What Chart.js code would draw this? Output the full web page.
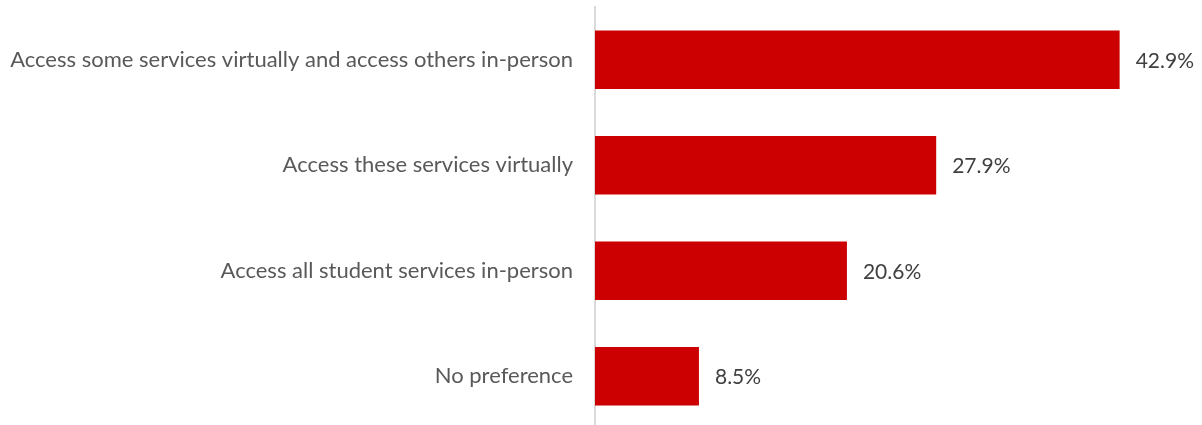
<!DOCTYPE html>
<html>
<head>
<meta charset="utf-8">
<script src="https://cdn.jsdelivr.net/npm/chart.js@4"></script>
<style>
  html, body { margin: 0; padding: 0; background: #fff; overflow: hidden; }
  canvas { display: block; }
</style>
</head>
<body>
<canvas id="prefs" width="1202" height="429"></canvas>
<script>
var categories = [
  'Access some services virtually and access others in-person',
  'Access these services virtually',
  'Access all student services in-person',
  'No preference'
];
var shares = [42.9, 27.9, 20.6, 8.5];

var FONT = 'Lato, sans-serif';

// value labels at the end of each bar
var barLabels = {
  id: 'barLabels',
  afterDatasetsDraw: function (chart) {
    var ctx = chart.ctx;
    var meta = chart.getDatasetMeta(0);
    ctx.save();
    ctx.font = '21px ' + FONT;
    ctx.fillStyle = '#404040';
    ctx.textAlign = 'left';
    ctx.textBaseline = 'middle';
    meta.data.forEach(function (bar, i) {
      ctx.fillText(shares[i].toFixed(1) + '%', bar.x + 16, bar.y + 1);
    });
    ctx.restore();
  }
};

var ctx = document.getElementById('prefs').getContext('2d');
var chart = new Chart(ctx, {
  type: 'bar',
  data: {
    labels: categories,
    datasets: [{
      data: shares,
      backgroundColor: '#CC0000',
      borderWidth: 0,
      categoryPercentage: 0.555,
      barPercentage: 1
    }]
  },
  options: {
    indexAxis: 'y',
    responsive: false,
    animation: false,
    layout: { padding: { top: 7, right: 20, bottom: 0, left: 0 } },
    plugins: { legend: { display: false }, tooltip: { enabled: false } },
    scales: {
      x: {
        min: 0,
        max: 48,
        display: false
      },
      y: {
        grid: { display: false, drawTicks: false },
        border: { display: true, color: '#d9d9d9', width: 2 },
        ticks: {
          color: '#595959',
          padding: 22,
          font: { family: FONT, size: 22 }
        },
        afterFit: function (scale) {
          scale.width = 595;
          scale.paddingTop = 0;
          scale.paddingBottom = 0;
        }
      }
    }
  },
  plugins: [barLabels]
});
</script>
</body>
</html>
